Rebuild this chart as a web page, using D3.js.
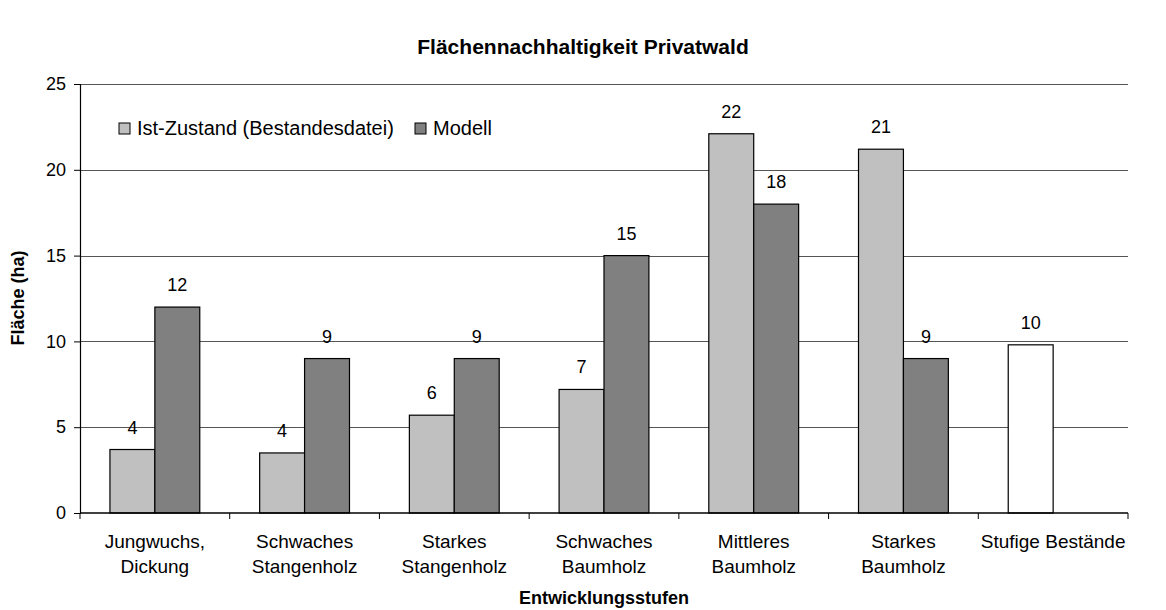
<!DOCTYPE html>
<html>
<head>
<meta charset="utf-8">
<script src="https://d3js.org/d3.v7.min.js"></script>
<style>
  body { margin: 0; background: #fff; }
  svg text { font-family: "Liberation Sans", Arial, sans-serif; fill: #000; }
  .bold { font-weight: bold; }
</style>
</head>
<body>
<svg id="chart"></svg>
<script>
    // data
    var categories = [
        ["Jungwuchs,", "Dickung"],
        ["Schwaches", "Stangenholz"],
        ["Starkes", "Stangenholz"],
        ["Schwaches", "Baumholz"],
        ["Mittleres", "Baumholz"],
        ["Starkes", "Baumholz"],
        ["Stufige Bestände"]
    ];
    var istValues = [3.7, 3.5, 5.7, 7.2, 22.1, 21.2, 9.8];
    var modellValues = [12, 9, 9, 15, 18, 9, null];
    var seriesNames = ["Ist-Zustand (Bestandesdatei)", "Modell"];
    var yTicks = [0, 5, 10, 15, 20, 25];

    var screen = {width:1166, height:610}
    var margins = {left:80, right:38, top:84, bottom:97}
    var graph =
    {
        width: screen.width - margins.left - margins.right,
        height: screen.height - margins.top - margins.bottom
    }

    var svg = d3.select("#chart")
        .attr("width", screen.width)
        .attr("height", screen.height);

    var target = svg.append("g")
        .attr("transform", "translate(" + margins.left + "," + margins.top + ")");

    var xScale = d3.scaleBand()
        .domain(d3.range(categories.length))
        .range([0, graph.width])
        .paddingInner(0.4)
        .paddingOuter(0.2);

    var sub = d3.scaleBand()
        .domain([0, 1])
        .range([0, xScale.bandwidth()]);

    var yScale = d3.scaleLinear()
        .domain([0, 25])
        .range([graph.height, 0]);

    // gridlines
    target.selectAll(".grid")
        .data(yTicks.filter(function(t){ return t > 0; }))
        .enter()
        .append("line")
        .attr("x1", 0)
        .attr("x2", graph.width)
        .attr("y1", function(d){ return Math.round(yScale(d)) + 0.5; })
        .attr("y2", function(d){ return Math.round(yScale(d)) + 0.5; })
        .attr("stroke", "#555")
        .attr("stroke-width", 1);

    // bars
    var rows = [];
    categories.forEach(function(c, i)
    {
        rows.push({cat:i, s:0, v:istValues[i]});
        if (modellValues[i] != null) { rows.push({cat:i, s:1, v:modellValues[i]}); }
    });

    var getFill = function(d)
    {
        if (d.s == 1) return "#808080";
        if (d.cat == categories.length - 1) return "#ffffff";
        return "#c0c0c0";
    }

    target.selectAll(".bar")
        .data(rows)
        .enter()
        .append("rect")
        .attr("x", function(d){ return xScale(d.cat) + sub(d.s); })
        .attr("y", function(d){ return yScale(d.v); })
        .attr("width", sub.bandwidth())
        .attr("height", function(d){ return graph.height - yScale(d.v); })
        .attr("fill", getFill)
        .attr("stroke", "#000")
        .attr("stroke-width", 1.2);

    // value labels
    target.selectAll(".lbl")
        .data(rows)
        .enter()
        .append("text")
        .attr("x", function(d){ return xScale(d.cat) + sub(d.s) + sub.bandwidth() / 2; })
        .attr("y", function(d){ return yScale(d.v) - 16; })
        .attr("text-anchor", "middle")
        .style("font-size", "18px")
        .text(function(d){ return Math.round(d.v); });

    // y axis
    var yAxis = d3.axisLeft(yScale).tickValues(yTicks).tickSize(6).tickPadding(8);
    var yg = target.append("g").call(yAxis);
    yg.select(".domain").attr("stroke", "#000").attr("stroke-width", 1.2);
    yg.selectAll("line").attr("stroke", "#000");
    yg.selectAll("text").style("font-size", "18px").style("font-family", "Liberation Sans, Arial, sans-serif");

    // x axis
    var xg = target.append("g").attr("transform", "translate(0," + graph.height + ")");
    xg.append("line")
        .attr("x1", 0).attr("x2", graph.width)
        .attr("y1", 0).attr("y2", 0)
        .attr("stroke", "#000").attr("stroke-width", 1.5);
    var step = xScale.step();
    xg.selectAll(".tick")
        .data(d3.range(categories.length + 1))
        .enter()
        .append("line")
        .attr("x1", function(d){ return d * step; })
        .attr("x2", function(d){ return d * step; })
        .attr("y1", 0).attr("y2", 6)
        .attr("stroke", "#000");

    var labels = xg.selectAll(".xl")
        .data(categories)
        .enter()
        .append("text")
        .attr("text-anchor", "middle")
        .attr("transform", function(d, i){ return "translate(" + (xScale(i) + xScale.bandwidth() / 2) + ",35)"; })
        .style("font-size", "19px");
    labels.selectAll("tspan")
        .data(function(d){ return d; })
        .enter()
        .append("tspan")
        .attr("x", 0)
        .attr("dy", function(d, j){ return j == 0 ? 0 : 25; })
        .text(function(d){ return d; });

    // legend
    var legend = target.append("g").attr("transform", "translate(39,39)");
    var legendX = [0, 296];
    seriesNames.forEach(function(name, i)
    {
        legend.append("rect")
            .attr("x", legendX[i]).attr("y", 0)
            .attr("width", 11).attr("height", 11)
            .attr("fill", i == 0 ? "#c0c0c0" : "#808080")
            .attr("stroke", "#000");
        legend.append("text")
            .attr("x", legendX[i] + 18).attr("y", 12)
            .style("font-size", "20px")
            .text(name);
    });

    // titles
    svg.append("text")
        .attr("class", "bold")
        .attr("x", 583).attr("y", 54)
        .attr("text-anchor", "middle")
        .style("font-size", "21px")
        .text("Flächennachhaltigkeit Privatwald");

    svg.append("text")
        .attr("class", "bold")
        .attr("x", 604).attr("y", 604)
        .attr("text-anchor", "middle")
        .style("font-size", "18px")
        .text("Entwicklungsstufen");

    svg.append("text")
        .attr("class", "bold")
        .attr("transform", "translate(24,298) rotate(-90)")
        .attr("text-anchor", "middle")
        .style("font-size", "18px")
        .text("Fläche (ha)");
</script>
</body>
</html>
